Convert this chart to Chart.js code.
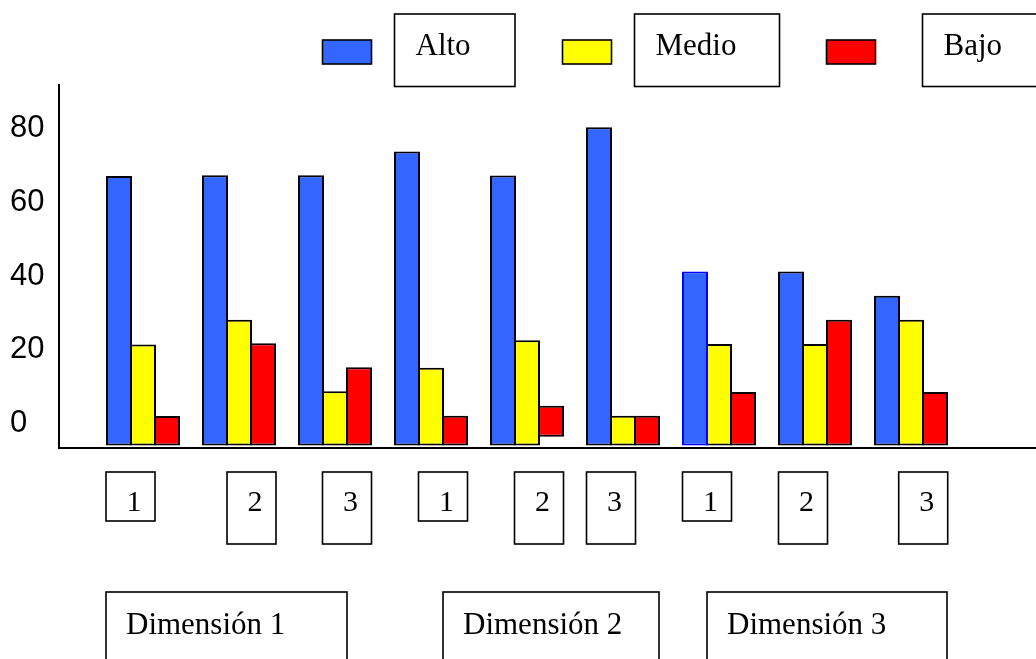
<!DOCTYPE html>
<html>
<head>
<meta charset="utf-8">
<script src="https://cdn.jsdelivr.net/npm/chart.js@4/dist/chart.umd.min.js"></script>
<style>
  html, body { margin: 0; padding: 0; background: #ffffff; }
  canvas { display: block; }
</style>
</head>
<body>
<canvas id="chart" width="1036" height="659"></canvas>
<script>
// Indicator labels under each bar group, and the dimension each group of three belongs to
const categories = ['1', '2', '3', '1', '2', '3', '1', '2', '3'];
const dimensions = ['Dimensión 1', 'Dimensión 2', 'Dimensión 3'];

// Series names
const seriesNames = ['Alto', 'Medio', 'Bajo'];

// Series values (percent), one per indicator
const alto  = [67.1, 67.3, 67.3, 73.7, 67.2, 80.3, 41.2, 41.2, 34.7];
const medio = [21.5, 28.2, 8.8, 15.2, 22.6, 2.2, 21.6, 21.6, 28.2];
const bajo  = [2.1, 21.8, 15.3, 2.2, [-3.5, 4.9], 2.2, 8.6, 28.2, 8.6];

// Value-axis tick labels
const yTickValues = [0, 20, 40, 60, 80];

// ---- drawing / layout settings ----
const COLORS = ['#3366ff', '#ffff00', '#ff0000'];
const BAR_BASE = -5.87;            // bars are drawn up from just above the axis line
const SERIF = "'Liberation Serif', 'Times New Roman', serif";
const SANS = "'Liberation Sans', Arial, sans-serif";

// boxed indicator labels: left edge offset from the group centre, box height
const tickBoxDX = [-37, -12, -12.5, -12.5, -12.5, -36.5, -36.5, -36.5, -12.3];
const tickBoxH  = [49, 72, 72, 49, 72, 72, 49, 72, 72];
// dimension boxes: [first group, offset, last group, offset]
const dimSpans = [[0, -37, 2, 12], [3, 12, 5, 36], [6, -12, 8, 36]];

const legendLayout = {
  swatchX: [322.5, 562.5, 826.5], swatchY: 40, swatchW: 49, swatchH: 24,
  boxX: [394.5, 634.5, 922.5], boxW: [120.5, 145, 140], boxY: 14, boxH: 72.5
};

function toPoints(values) {
  return values.map((v, i) => ({ x: i + 1, y: v }));
}

function makeDataset(i, values) {
  return {
    label: seriesNames[i],
    data: toPoints(values),
    backgroundColor: COLORS[i],
    borderColor: i === 0 ? (ctx => ctx.dataIndex === 6 ? '#0000ff' : '#000000') : '#000000',
    borderWidth: 2,
    borderSkipped: false,
    base: BAR_BASE,
    categoryPercentage: 0.75,
    barPercentage: 26 / 24
  };
}

function strokeBox(ctx, x, y, w, h) {
  ctx.strokeRect(x, y, w, h);
}

// legend, boxed indicator labels and dimension boxes
const annotations = {
  id: 'boxedLabels',
  afterDraw(chart) {
    const ctx = chart.ctx;
    const xs = chart.scales.x;
    ctx.save();
    ctx.strokeStyle = '#000000';
    ctx.lineWidth = 1.6;
    ctx.fillStyle = '#000000';
    ctx.textBaseline = 'alphabetic';
    ctx.textAlign = 'left';

    // legend
    const L = legendLayout;
    chart.data.datasets.forEach((ds, i) => {
      ctx.fillStyle = ds.backgroundColor;
      ctx.fillRect(L.swatchX[i], L.swatchY, L.swatchW, L.swatchH);
      strokeBox(ctx, L.swatchX[i], L.swatchY, L.swatchW, L.swatchH);
      strokeBox(ctx, L.boxX[i], L.boxY, L.boxW[i], L.boxH);
      ctx.fillStyle = '#000000';
      ctx.font = '31px ' + SERIF;
      ctx.fillText(ds.label, L.boxX[i] + 21, 55);
    });

    // indicator boxes
    ctx.font = '30px ' + SERIF;
    categories.forEach((c, i) => {
      const left = xs.getPixelForValue(i + 1) + tickBoxDX[i];
      strokeBox(ctx, left, 472, 49, tickBoxH[i]);
      ctx.fillText(c, left + 20.5, 511);
    });

    // dimension boxes
    ctx.font = '31px ' + SERIF;
    dimensions.forEach((d, i) => {
      const [g0, o0, g1, o1] = dimSpans[i];
      const left = xs.getPixelForValue(g0 + 1) + o0;
      const right = xs.getPixelForValue(g1 + 1) + o1;
      strokeBox(ctx, left, 592, right - left, 90);
      ctx.fillText(d, left + 20, 634);
    });
    ctx.restore();
  }
};

new Chart(document.getElementById('chart'), {
  type: 'bar',
  data: {
    datasets: [makeDataset(0, alto), makeDataset(1, medio), makeDataset(2, bajo)]
  },
  options: {
    responsive: false,
    animation: false,
    events: [],
    layout: { padding: { left: 10, top: 85, right: 0, bottom: 211 } },
    plugins: { legend: { display: false }, tooltip: { enabled: false } },
    scales: {
      x: {
        type: 'linear',
        min: 0.125,
        max: 10.302,
        offset: false,
        grid: { display: false },
        border: { display: true, color: '#000000', width: 2 },
        ticks: { display: false },
        afterFit: s => { s.height = 0; }
      },
      y: {
        min: -6.55,
        max: 91.72,
        grid: { display: false },
        border: { display: true, color: '#000000', width: 2 },
        afterBuildTicks: s => { s.ticks = yTickValues.map(v => ({ value: v })); },
        afterFit: s => { s.width = 49; },
        ticks: {
          crossAlign: 'far',
          padding: 0,
          color: '#000000',
          font: { family: SANS, size: 31 }
        }
      }
    }
  },
  plugins: [annotations]
});
</script>
</body>
</html>
